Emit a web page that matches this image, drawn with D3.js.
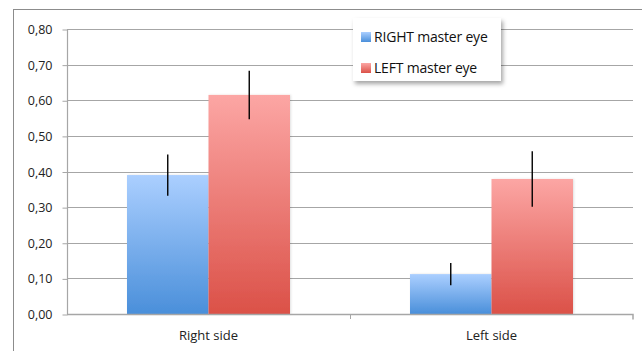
<!DOCTYPE html>
<html><head><meta charset="utf-8">
<script src="https://cdn.jsdelivr.net/npm/d3@7"></script>
<style>body{margin:0;background:#fff;}svg{display:block;font-family:"Open Sans",Arial,sans-serif;}</style>
</head><body>
<svg id="c" width="642" height="351"></svg>
<script>
const categories = ["Right side", "Left side"];
const seriesNames = ["RIGHT master eye", "LEFT master eye"];
const rightEye = [0.39, 0.112];
const leftEye = [0.615, 0.379];
const rightEyeErr = [0.058, 0.031];
const leftEyeErr = [0.068, 0.078];
const yTicks = [0, 0.1, 0.2, 0.3, 0.4, 0.5, 0.6, 0.7, 0.8];

const svg = d3.select("#c");
const m = {l: 67, r: 633, t: 29, b: 314};
const x = d3.scaleBand().domain(categories).range([m.l, m.r]).paddingInner(0).paddingOuter(0);
const x1 = d3.scaleBand().domain(seriesNames).range([0, x.bandwidth()]).paddingInner(0).paddingOuter(0.7362);
const y = d3.scaleLinear().domain([0, 0.8]).range([m.b, m.t]);

// frame
svg.append("rect").attr("x", 13.5).attr("y", 9.5).attr("width", 700).attr("height", 400)
  .attr("fill", "none").attr("stroke", "#8c8c8c").attr("stroke-width", 1);

const defs = svg.append("defs");
const grads = [["gBlue", "#abcfff", "#4a8fda"], ["gRed", "#fca6a4", "#db5148"]];
grads.forEach(([id, a, b]) => {
  const g = defs.append("linearGradient").attr("id", id).attr("x1", 0).attr("y1", 0).attr("x2", 0).attr("y2", 1);
  g.append("stop").attr("offset", 0).attr("stop-color", a);
  g.append("stop").attr("offset", 1).attr("stop-color", b);
});
const f = defs.append("filter").attr("id", "sh").attr("x", "-20%").attr("y", "-20%").attr("width", "150%").attr("height", "150%");
f.append("feDropShadow").attr("dx", 2).attr("dy", 3).attr("stdDeviation", 2).attr("flood-color", "#000").attr("flood-opacity", 0.35);
const fb = defs.append("filter").attr("id", "bsh").attr("x", "-10%").attr("y", "-5%").attr("width", "120%").attr("height", "110%");
fb.append("feDropShadow").attr("dx", 1).attr("dy", 0).attr("stdDeviation", 1).attr("flood-color", "#000").attr("flood-opacity", 0.12);

// gridlines
svg.append("g").selectAll("line").data(yTicks.slice(1)).join("line")
  .attr("x1", m.l).attr("x2", m.r).attr("y1", d => Math.round(y(d)) + 0.5).attr("y2", d => Math.round(y(d)) + 0.5)
  .attr("stroke", "#a6a6a6").attr("stroke-width", 1.2);

// y axis
const ya = svg.append("g").attr("transform", `translate(${m.l + 0.5},0.5)`)
  .call(d3.axisLeft(y).tickValues(yTicks).tickSize(5).tickPadding(10).tickFormat(d => d3.format(".2f")(d).replace(".", ",")));
ya.select(".domain").attr("stroke", "#a6a6a6").attr("stroke-width", 1.2).attr("d", `M0,${m.t}V${m.b}`);
ya.selectAll(".tick line").attr("stroke", "#a6a6a6");
ya.selectAll(".tick text").attr("font-size", 12.5).attr("fill", "#222").attr("font-family", "Open Sans, sans-serif");

// bars
const data = categories.map((c, i) => ({c, vals: [
  {s: seriesNames[0], v: rightEye[i], e: rightEyeErr[i], g: "gBlue"},
  {s: seriesNames[1], v: leftEye[i], e: leftEyeErr[i], g: "gRed"}]}));
const grp = svg.append("g").selectAll("g").data(data).join("g").attr("transform", d => `translate(${x(d.c)},0)`);
grp.selectAll("rect").data(d => d.vals).join("rect")
  .attr("x", d => x1(d.s)).attr("width", x1.bandwidth())
  .attr("y", d => y(d.v)).attr("height", d => y(0) - y(d.v))
  .attr("fill", d => `url(#${d.g})`).attr("filter", "url(#bsh)");
grp.selectAll("line.err").data(d => d.vals).join("line").attr("class", "err")
  .attr("x1", d => x1(d.s) + x1.bandwidth() / 2).attr("x2", d => x1(d.s) + x1.bandwidth() / 2)
  .attr("y1", d => y(d.v + d.e)).attr("y2", d => y(d.v - d.e))
  .attr("stroke", "#000").attr("stroke-width", 1.4);

// x axis
const xa = svg.append("g").attr("transform", `translate(0,${m.b + 0.5})`)
  .call(d3.axisBottom(x).tickSize(0).tickPadding(16));
xa.select(".domain").attr("stroke", "#a6a6a6").attr("stroke-width", 1.5).attr("d", `M${m.l},0H${m.r}V5`);
xa.selectAll(".tick text").attr("font-size", 13).attr("fill", "#222").attr("font-family", "Open Sans, sans-serif");
svg.append("line").attr("x1", x(categories[1]) + 0.5).attr("x2", x(categories[1]) + 0.5)
  .attr("y1", m.b).attr("y2", m.b + 5).attr("stroke", "#a6a6a6");

// legend
const lg = svg.append("g").attr("transform", "translate(353,18)");
lg.append("rect").attr("width", 148).attr("height", 63).attr("fill", "#fff").attr("filter", "url(#sh)");
const li = lg.selectAll("g").data(seriesNames).join("g").attr("transform", (d, i) => `translate(8,${14 + i * 31})`);
li.append("rect").attr("width", 10).attr("height", 10).attr("fill", (d, i) => `url(#${grads[i][0]})`);
li.append("text").attr("x", 13).attr("y", 10).attr("font-size", 14).attr("fill", "#111")
  .attr("font-family", "Open Sans, sans-serif").attr("letter-spacing", -0.2).text(d => d);
</script>
</body></html>
